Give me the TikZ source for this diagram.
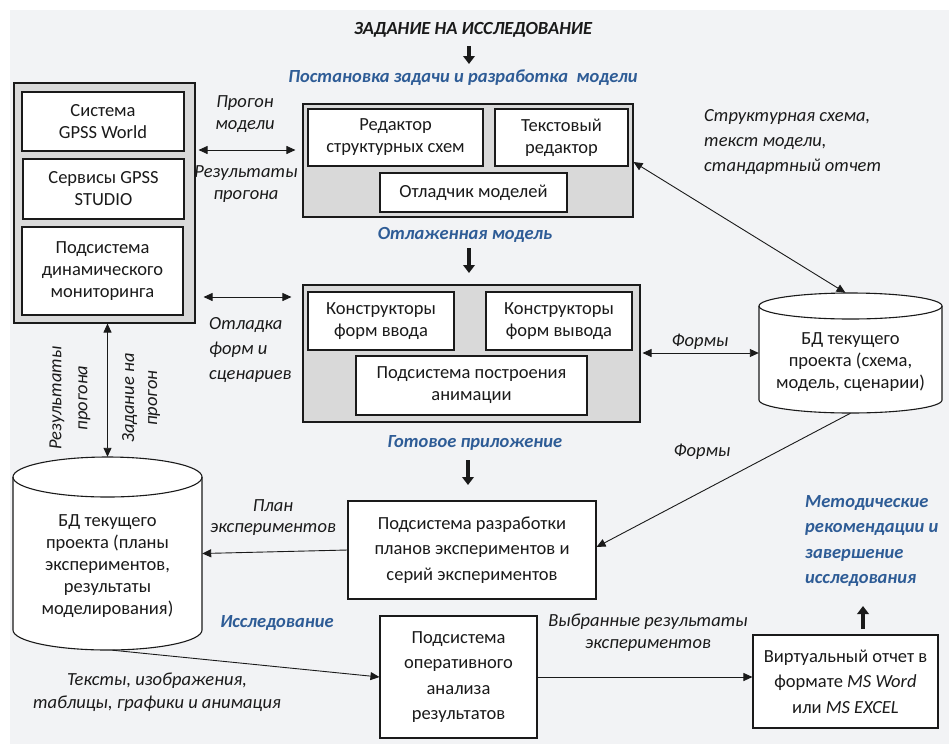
\documentclass[tikz,border=0pt]{standalone}
\usepackage{fontspec}
\setmainfont{Carlito}
\usetikzlibrary{arrows.meta}
\definecolor{bg}{HTML}{F2F3F5}
\definecolor{grp}{HTML}{D9D9D9}
\definecolor{lblue}{HTML}{2E5C96}
\definecolor{ink}{HTML}{1A1A1A}
\newcommand\mybox[7][box]{\node[#1, minimum width={(#5-#3)*1pt}, minimum height={(#6-#4)*1pt}] (#2) at ({(#3+#5)/2},{(#4+#6)/2}) {#7};}
\newcommand\mycyl[6]{%
  \node[inner sep=0pt, minimum width={(#3-#2)*1pt}, minimum height={(#5-#4)*1pt}] (#1) at ({(#2+#3)/2},{(#4+#5)/2}) {};
  \draw[cylline] (#2,{#4+#6}) -- (#2,{#5-#6}) arc[start angle=180,end angle=360,x radius={(#3-#2)/2*1pt},y radius={#6*1pt}] -- (#3,{#4+#6}) arc[start angle=0,end angle=180,x radius={(#3-#2)/2*1pt},y radius={#6*1pt}] -- cycle;
  \draw[cylline, fill=none] (#2,{#4+#6}) arc[start angle=180,end angle=360,x radius={(#3-#2)/2*1pt},y radius={#6*1pt}];}
\begin{document}
\begin{tikzpicture}[x=1pt,y=-1pt,
  box/.style={draw=ink, line width=1.1pt, fill=white, align=center, inner sep=0pt, text=ink, font=\fontsize{18.5}{22}\selectfont},
  wbox/.style={box, font=\fontsize{18.5}{25.5}\selectfont},
  grpbox/.style={draw=ink, line width=1.1pt, fill=grp, inner sep=0pt},
  cylline/.style={draw=ink, line width=1.1pt, fill=white},
  lab/.style={font=\fontsize{18.5}{22}\selectfont\itshape, text=ink, align=center, inner sep=0pt},
  blab/.style={font=\fontsize{18.5}{25.5}\selectfont\bfseries\itshape, text=lblue, align=center, inner sep=0pt},
  conn/.style={draw=ink, line width=0.9pt, -{Triangle[length=9pt,width=8pt]}},
  dconn/.style={draw=ink, line width=0.9pt, {Triangle[length=9pt,width=8pt]}-{Triangle[length=9pt,width=8pt]}},
  fat/.style={draw=ink, line width=4.5pt, -{Triangle[length=8pt,width=11.5pt]}}]
\fill[white] (0,0) rectangle (949,745);
\useasboundingbox (0,0) rectangle (949,745);
\fill[bg] (10,10) rectangle (949,744);

% title and top flow
\node[lab, font=\fontsize{18.5}{22}\selectfont\bfseries\itshape] (title) at (473,30) {ЗАДАНИЕ НА ИССЛЕДОВАНИЕ};
\coordinate (f1a) at (469,46); \coordinate (f1b) at (469,64);
\draw[fat] (f1a) -- (f1b);
\node[blab] (postan) at (463,78) {Постановка задачи и разработка\ \ модели};

% left group
\mybox[grpbox]{grpA}{14}{83}{195}{323}{}
\mybox{A1}{22}{92}{184}{151}{Система\\GPSS World}
\mybox{A2}{23}{159}{184}{219}{Сервисы GPSS\\STUDIO}
\mybox{A3}{22}{227}{183}{315}{Подсистема\\динамического\\мониторинга}

% top center group
\mybox[grpbox]{grpB}{303}{104}{633}{217}{}
\mybox{B1}{308}{109}{483}{166}{Редактор\\структурных схем}
\mybox{B2}{495}{109}{628}{166}{Текстовый\\редактор}
\mybox{B3}{380}{173}{567}{212}{Отладчик моделей}
\node[blab] (otlaj) at (465,235) {Отлаженная модель};
\coordinate (f2a) at (469,248); \coordinate (f2b) at (469,273);
\draw[fat] (f2a) -- (f2b);

% middle center group
\mybox[grpbox]{grpC}{303}{285}{640}{422}{}
\mybox{C1}{308}{292}{454}{350}{Конструкторы\\форм ввода}
\mybox{C2}{486}{292}{632}{350}{Конструкторы\\форм вывода}
\mybox{C3}{356}{356}{587}{415}{Подсистема построения\\анимации}
\node[blab] (gotov) at (475,443) {Готовое приложение};
\coordinate (f3a) at (468,460); \coordinate (f3b) at (468,485);
\draw[fat] (f3a) -- (f3b);

% lower boxes
\mybox[wbox]{D}{348}{501}{596}{599}{Подсистема разработки\\планов экспериментов и\\серий экспериментов}
\mybox[wbox]{E}{380}{616}{537}{738}{Подсистема\\оперативного\\анализа\\результатов}
\mybox[wbox]{F}{753}{635}{938}{728}{Виртуальный отчет в\\формате \textit{MS Word}\\или \textit{MS EXCEL}}

% cylinders
\mycyl{dbR}{759}{942}{293}{413}{13}
\node[lab, font=\fontsize{18.5}{22}\selectfont] (dbRt) at (850.5,362) {БД текущего\\проекта (схема,\\модель, сценарии)};
\mycyl{dbL}{13}{202}{457}{650}{20}
\node[lab, font=\fontsize{18.5}{22}\selectfont] (dbLt) at (107.5,566) {БД текущего\\проекта (планы\\экспериментов,\\результаты\\моделирования)};

% connectors
\draw[dconn, shorten <=3pt, shorten >=7pt] ([yshift=53pt]grpA.east) -- ([yshift=10.5pt]grpB.west);
\node[lab] (lprogon) at (245,114) {Прогон\\модели};
\node[lab] (lres) at (246,184) {Результаты\\прогона};

\draw[dconn, shorten <=8pt, shorten >=11pt] ([yshift=-94pt]grpA.east) -- ([yshift=56.5pt]grpC.west);
\node[lab, align=left, anchor=west, font=\fontsize{18.5}{25}\selectfont\itshape] (lotl) at (209,350) {Отладка\\форм и\\сценариев};

\draw[dconn] (dbL.north |- grpA.south) -- (dbL.north);
\node[lab, rotate=90, font=\fontsize{18.5}{26}\selectfont\itshape] (lrv1) at (70,398) {Результаты\\прогона};
\node[lab, rotate=90, font=\fontsize{18.5}{23}\selectfont\itshape] (lrv2) at (141,398) {Задание на\\прогон};

\draw[dconn] ([yshift=-1.5pt]grpB.east) -- ([xshift=-5pt]dbR.north);
\node[lab, align=left, anchor=west, font=\fontsize{18.5}{25}\selectfont\itshape] (lstr) at (704,142) {Структурная схема,\\текст модели,\\стандартный отчет};

\draw[dconn, shorten <=2pt] (grpC.east |- dbR.west) -- (dbR.west);
\node[lab] (lform1) at (700,342) {Формы};

\draw[conn] (dbR.south) -- ([yshift=3pt]D.east);
\node[lab] (lform2) at (702,452) {Формы};

\draw[conn] (D.west) -- (dbL.east);
\node[lab, font=\fontsize{18.5}{21}\selectfont\itshape] (lplan) at (273,518) {План\\экспериментов};

\node[blab] (issl) at (277,623) {Исследование};
\draw[conn] ([xshift=5pt]dbL.south) -- (E.west);
\node[lab, font=\fontsize{18.5}{23}\selectfont\itshape] (ltxt) at (157,692) {Тексты, изображения,\\таблицы, графики и анимация};

\draw[conn] (E.east) -- (E.east -| F.west);
\node[lab] (lvyb) at (648,633) {Выбранные результаты\\экспериментов};

\coordinate (f4a) at (863,629); \coordinate (f4b) at (863,606);
\draw[fat] (f4a) -- (f4b);
\node[blab, align=left, anchor=west] (lmet) at (805,541) {Методические\\рекомендации и\\завершение\\исследования};
\end{tikzpicture}
\end{document}
